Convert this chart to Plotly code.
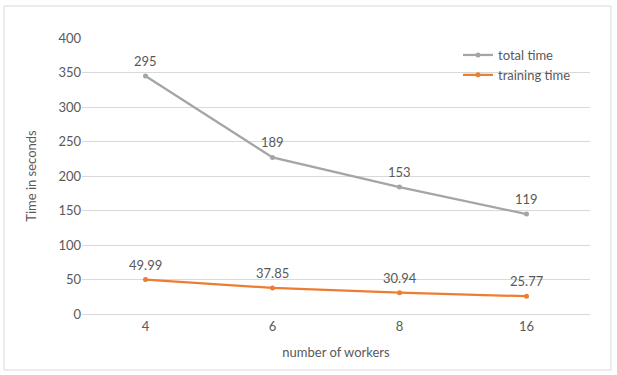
import plotly.graph_objects as go

# Number of workers on the x axis (treated as categories)
workers = ["4", "6", "8", "16"]
# Training time per run, in seconds
training_time = [49.99, 37.85, 30.94, 25.77]
# Remaining time on top of training (stacked above it)
total_time = [295, 189, 153, 119]

GRAY = "#A5A5A5"
ORANGE = "#ED7D31"
TXT = "#595959"
GRID = "#D9D9D9"
FONT = "Lato, 'Open Sans', sans-serif"

fig = go.Figure()

fig.add_trace(go.Scatter(
    x=workers, y=training_time, name="training time",
    stackgroup="one", fill="none",
    mode="lines+markers",
    line=dict(color=ORANGE, width=2.25),
    marker=dict(color=ORANGE, size=5),
    legendrank=2,
))
fig.add_trace(go.Scatter(
    x=workers, y=total_time, name="total time",
    stackgroup="one", fill="none",
    mode="lines+markers",
    line=dict(color=GRAY, width=2.25),
    marker=dict(color=GRAY, size=5),
    legendrank=1,
))

# value labels above each point (at the stacked height); category index on x
for i, w in enumerate(workers):
    fig.add_annotation(x=i, y=training_time[i], text=f"{training_time[i]:.2f}",
                       showarrow=False, yanchor="bottom", yshift=5,
                       font=dict(size=13, color=TXT, family=FONT))
    fig.add_annotation(x=i, y=training_time[i] + total_time[i], text=str(total_time[i]),
                       showarrow=False, yanchor="bottom", yshift=5,
                       font=dict(size=13, color=TXT, family=FONT))

# light frame around the whole chart
L, R, T, B = 82, 27, 38, 61
W, H = 617, 375
pw, ph = W - L - R, H - T - B
fig.add_shape(
    type="rect", xref="paper", yref="paper",
    x0=(4 - L) / pw, x1=(611 - L) / pw,
    y0=(H - B - 370) / ph, y1=(H - B - 6) / ph,
    line=dict(color=GRID, width=1), fillcolor="rgba(0,0,0,0)", layer="below",
)

fig.update_layout(
    width=W, height=H,
    margin=dict(l=L, r=R, t=T, b=B),
    paper_bgcolor="white", plot_bgcolor="white",
    font=dict(family=FONT, color=TXT, size=13),
    showlegend=True,
    legend=dict(
        x=(458 - L) / pw, y=(H - B - 40) / ph, xanchor="left", yanchor="top",
        bgcolor="rgba(0,0,0,0)", font=dict(size=13, color=TXT, family=FONT),
        itemwidth=30, tracegroupgap=0,
    ),
    xaxis=dict(
        type="category", range=[-0.5, 3.5], showgrid=False, showline=True,
        linecolor=GRID, linewidth=1, ticks="", tickfont=dict(size=13, color=TXT),
        title=dict(text="number of workers", font=dict(size=13, color=TXT), standoff=15),
        zeroline=False,
    ),
    yaxis=dict(
        range=[0, 400], dtick=50, showgrid=True, gridcolor=GRID, gridwidth=1,
        zeroline=False, showline=False, ticks="",
        tickfont=dict(size=13, color=TXT),
        title=dict(text="Time in seconds", font=dict(size=13, color=TXT), standoff=18),
    ),
)

fig.write_html("out.html")
